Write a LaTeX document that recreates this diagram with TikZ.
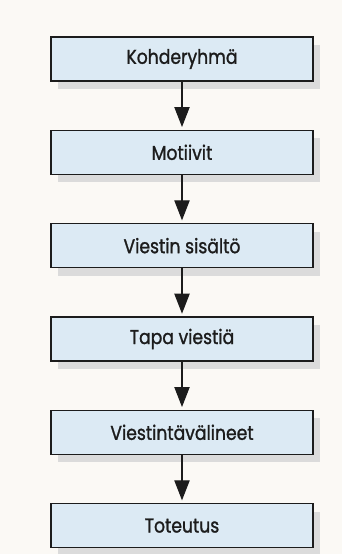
\documentclass[tikz,border=0pt]{standalone}
\usepackage{fontspec}
\setmainfont{Poppins}[FakeStretch=0.86,FakeBold=1.2]
\usetikzlibrary{arrows.meta,positioning,shadows}
\definecolor{boxblue}{HTML}{DCEAF4}
\definecolor{paper}{HTML}{FBF9F5}
\definecolor{ink}{HTML}{1C1C1C}

\begin{document}
\begin{tikzpicture}[
  font=\fontsize{15}{17}\selectfont, node distance=36pt,
  b/.style={draw=ink,line width=1pt,fill=boxblue,text=ink,
    minimum width=196.5pt,minimum height=33pt,inner sep=0pt,
    drop shadow={shadow xshift=5pt,shadow yshift=-6pt,fill=black!14,opacity=1}},
  a/.style={draw=ink,line width=0.8pt,-{Triangle[length=15pt,width=11.5pt]},shorten >=2pt}]
\fill[paper] (0,0) rectangle (256.5pt,-415.5pt);
\useasboundingbox (0,0) rectangle (256.5pt,-415.5pt);
\node[b] (kr) at (136.5pt,-44.25pt) {Kohderyhmä};
\node[b,below=of kr] (mo) {Motiivit};
\node[b,below=of mo] (vs) {Viestin sisältö};
\node[b,below=of vs] (tv) {Tapa viestiä};
\node[b,below=of tv] (vv) {Viestintävälineet};
\node[b,below=of vv] (to) {Toteutus};
\draw[a](kr)--(mo);\draw[a](mo)--(vs);\draw[a](vs)--(tv);
\draw[a](tv)--(vv);\draw[a](vv)--(to);
\end{tikzpicture}
\end{document}
